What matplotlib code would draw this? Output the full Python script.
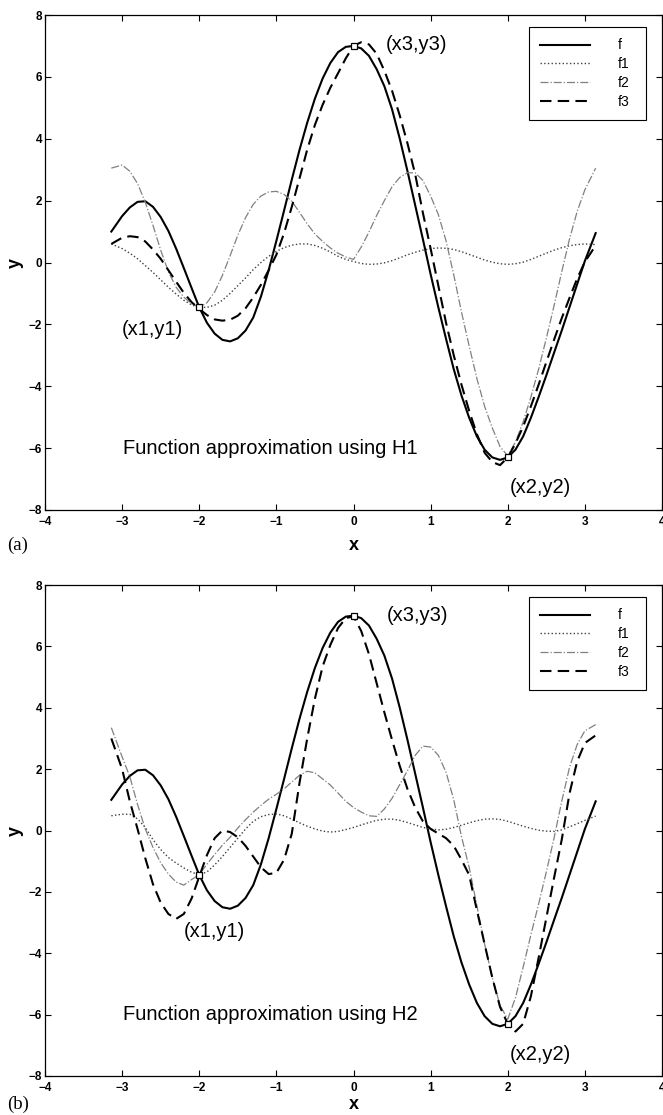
import matplotlib
matplotlib.use("Agg")
import matplotlib.pyplot as plt

plt.rcParams['font.family'] = ['Liberation Sans', 'DejaVu Sans']

# sample points
x = [-3.14, -3.0, -2.9, -2.8, -2.7, -2.6, -2.5, -2.4, -2.3, -2.2, -2.1,
     -2.0, -1.9, -1.8, -1.7, -1.6, -1.5, -1.4, -1.3, -1.2, -1.1,
     -1.0, -0.9, -0.8, -0.7, -0.6, -0.5, -0.4, -0.3, -0.2, -0.1,
     0.0, 0.1, 0.2, 0.3, 0.4, 0.5, 0.6, 0.7, 0.8, 0.9,
     1.0, 1.1, 1.2, 1.3, 1.4, 1.5, 1.6, 1.7, 1.8, 1.9,
     2.0, 2.1, 2.2, 2.3, 2.4, 2.5, 2.6, 2.7, 2.8, 2.9,
     3.0, 3.14]

f = [1.0, 1.5, 1.78, 1.96, 1.98, 1.8, 1.47, 1.02, 0.45, -0.18, -0.82,
     -1.45, -1.95, -2.3, -2.5, -2.55, -2.45, -2.2, -1.78, -1.1, -0.25,
     0.7, 1.68, 2.68, 3.64, 4.52, 5.3, 5.95, 6.45, 6.8, 6.97,
     7.0, 6.92, 6.68, 6.25, 5.7, 4.95, 4.0, 2.95, 1.85, 0.75,
     -0.38, -1.45, -2.47, -3.45, -4.3, -5.02, -5.62, -6.05, -6.3, -6.38,
     -6.3, -6.05, -5.62, -5.02, -4.35, -3.65, -2.92, -2.2, -1.45, -0.7,
     0.05, 0.95]

# approximations using H1
h1_f1 = [0.6, 0.45, 0.3, 0.12, -0.1, -0.32, -0.56, -0.8, -1.02, -1.22, -1.37,
         -1.45, -1.45, -1.38, -1.22, -1.0, -0.75, -0.5, -0.23, 0.0, 0.2,
         0.36, 0.48, 0.56, 0.6, 0.6, 0.55, 0.46, 0.34, 0.2, 0.1,
         0.03, -0.03, -0.06, -0.05, -0.01, 0.06, 0.15, 0.25, 0.33, 0.4,
         0.45, 0.47, 0.46, 0.42, 0.35, 0.26, 0.17, 0.08, 0.01, -0.04,
         -0.06, -0.04, 0.01, 0.1, 0.2, 0.3, 0.4, 0.48, 0.54, 0.58,
         0.6, 0.58]
h1_f2 = [3.05, 3.15, 2.95, 2.55, 1.95, 1.2, 0.4, -0.3, -0.8, -1.12, -1.33,
         -1.45, -1.3, -0.95, -0.42, 0.22, 0.88, 1.45, 1.88, 2.15, 2.28,
         2.3, 2.2, 1.98, 1.62, 1.25, 0.92, 0.68, 0.47, 0.3, 0.18,
         0.1, 0.5, 0.98, 1.52, 2.0, 2.45, 2.75, 2.9, 2.9, 2.65,
         2.15, 1.55, 0.7, -0.4, -1.6, -2.7, -3.75, -4.65, -5.35, -5.95,
         -6.25, -5.8, -5.15, -4.35, -3.45, -2.45, -1.4, -0.3, 0.75, 1.65,
         2.35, 3.05]
h1_f3 = [0.6, 0.8, 0.85, 0.82, 0.68, 0.42, 0.12, -0.25, -0.62, -0.98, -1.28,
         -1.5, -1.7, -1.84, -1.88, -1.85, -1.72, -1.48, -1.13, -0.72, -0.25,
         0.25, 0.95, 1.8, 2.72, 3.65, 4.45, 5.1, 5.65, 6.12, 6.6,
         7.0, 7.12, 7.05, 6.75, 6.2, 5.55, 4.75, 3.85, 2.85, 1.6,
         0.45, -0.75, -1.95, -3.0, -3.95, -4.8, -5.55, -6.15, -6.45, -6.55,
         -6.3, -5.85, -5.3, -4.65, -3.95, -3.22, -2.5, -1.8, -1.15, -0.52,
         0.02, 0.55]

# approximations using H2
h2_f1 = [0.48, 0.53, 0.53, 0.38, 0.1, -0.3, -0.62, -0.88, -1.06, -1.22, -1.36,
         -1.44, -1.35, -1.12, -0.85, -0.55, -0.25, 0.05, 0.3, 0.45, 0.52,
         0.54, 0.48, 0.37, 0.25, 0.14, 0.05, -0.02, -0.05, -0.03, 0.03,
         0.1, 0.18, 0.26, 0.33, 0.37, 0.37, 0.33, 0.26, 0.18, 0.1,
         0.05, 0.02, 0.04, 0.1, 0.17, 0.25, 0.32, 0.37, 0.38, 0.36,
         0.3, 0.22, 0.14, 0.07, 0.01, -0.02, -0.03, 0.02, 0.12, 0.22,
         0.33, 0.47]
h2_f2 = [3.35, 2.4, 1.75, 0.85, 0.05, -0.55, -1.05, -1.42, -1.68, -1.78, -1.6,
         -1.44, -1.1, -0.78, -0.48, -0.22, 0.08, 0.35, 0.6, 0.82, 1.02,
         1.18, 1.36, 1.58, 1.8, 1.93, 1.88, 1.68, 1.48, 1.22, 0.95,
         0.75, 0.6, 0.48, 0.46, 0.7, 1.05, 1.5, 1.95, 2.45, 2.75,
         2.72, 2.45, 1.9, 1.0, -0.2, -1.2, -2.45, -3.7, -4.8, -5.7,
         -6.15, -5.45, -4.45, -3.4, -2.4, -1.35, -0.25, 0.95, 2.05, 2.8,
         3.25, 3.45]
h2_f3 = [3.0, 2.0, 0.95, 0.05, -0.9, -1.75, -2.35, -2.72, -2.88, -2.72, -2.22,
         -1.5, -0.8, -0.25, 0.0, -0.05, -0.22, -0.5, -0.85, -1.2, -1.42,
         -1.38, -0.95, -0.1, 1.55, 3.0, 4.3, 5.35, 6.05, 6.6, 6.92,
         6.98, 6.5, 5.75, 4.8, 3.85, 2.95, 2.1, 1.35, 0.75, 0.3,
         0.05, -0.1, -0.25, -0.5, -0.95, -1.45, -2.6, -3.7, -4.8, -5.75,
         -6.3, -6.55, -6.3, -5.4, -4.15, -2.85, -1.55, -0.3, 1.2, 2.25,
         2.85, 3.1]

# interpolation nodes (x1,y1), (x2,y2), (x3,y3)
node_x = [-2.0, 2.0, 0.0]
node_y = [-1.45, -6.3, 7.0]
node_labels = ['(x1,y1)', '(x2,y2)', '(x3,y3)']

W, H = 663, 1115
fig = plt.figure(figsize=(W / 100, H / 100), dpi=100)


def panel(ax, g1, g2, g3, title, label_pos, tag, xlab_y):
    ax.plot(x, f, color='black', lw=1.5, label='f')
    ax.plot(x, g1, color='0.25', lw=1.0, ls=':', label='f1')
    ax.plot(x, g2, color='0.5', lw=0.9, ls='-.', label='f2')
    ax.plot(x, g3, color='black', lw=1.5, ls=(0, (5.5, 3.0)), label='f3')
    ax.plot(node_x, node_y, ls='none', marker='s', ms=4.5, mfc='white',
            mec='black', mew=0.9)
    for txt, (tx, ty) in zip(node_labels, label_pos):
        ax.text(tx, ty, txt, fontsize=14.5, va='center', ha='left')
    ax.text(-2.99, -6.0, title, fontsize=14.5, va='center', ha='left')

    ax.set_xlim(-4, 4)
    ax.set_ylim(-8, 8)
    ax.set_xticks(range(-4, 5))
    ax.set_yticks(range(-8, 9, 2))
    ax.tick_params(direction='in', top=True, right=True, length=4,
                   width=0.8, labelsize=8.5, pad=4)
    ax.tick_params(axis='y', pad=2)
    plt.setp(ax.get_xticklabels() + ax.get_yticklabels(), fontweight='bold')
    for s in ax.spines.values():
        s.set_linewidth(0.9)

    ax.set_xlabel('x', fontsize=13, fontweight='bold', va='baseline')
    ax.set_ylabel('y', fontsize=13, fontweight='bold', va='center')
    ax.xaxis.set_label_coords(0.5, xlab_y)
    ax.yaxis.set_label_coords(-30 / 617, 0.5)

    leg = ax.legend(loc='upper left', bbox_to_anchor=(2.27, 4.6, 1.52, 3.0),
                    bbox_transform=ax.transData, mode='expand',
                    borderaxespad=0, fontsize=10, handlelength=3.6,
                    handletextpad=2.0, labelspacing=0.35, borderpad=0.8,
                    fancybox=False, framealpha=1, edgecolor='black')
    leg.get_frame().set_linewidth(0.8)

    fig.text(7 / W, tag[1], tag[0], fontsize=13.5, family='Liberation Serif',
             va='center', ha='left')


ax1 = fig.add_axes([45 / W, 1 - 510 / H, 617 / W, 495 / H])
panel(ax1, h1_f1, h1_f2, h1_f3, 'Function approximation using H1',
      [(-3.0, -2.15), (2.02, -7.28), (0.42, 7.05)], ('(a)', 1 - 545 / H),
      -40 / 495)

ax2 = fig.add_axes([45 / W, 1 - 1076 / H, 617 / W, 491 / H])
panel(ax2, h2_f1, h2_f2, h2_f3, 'Function approximation using H2',
      [(-2.2, -3.3), (2.02, -7.3), (0.43, 6.99)], ('(b)', 1 - 1104 / H),
      -33 / 491)

fig.savefig('out.png', dpi=100)
